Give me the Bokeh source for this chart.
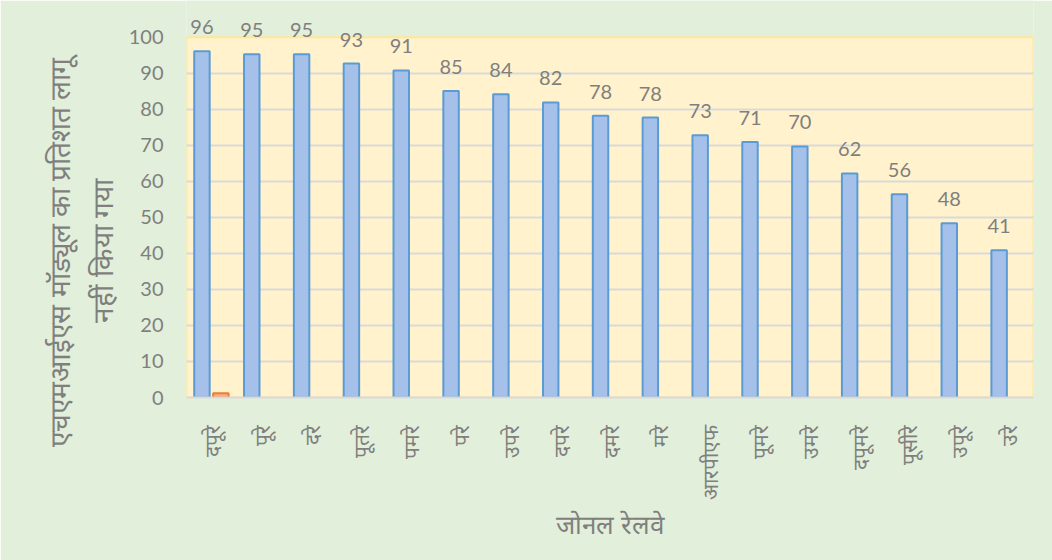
import math
from bokeh.plotting import figure
from bokeh.models import (ColumnDataSource, Range1d, FactorRange, LabelSet, Title,
                          FixedTicker, BoxAnnotation)
from bokeh.transform import dodge
from bokeh.core.properties import value
from bokeh.embed import file_html
from bokeh.resources import INLINE

# ---- data ----
zones = ["दपूरे", "पूरे", "दरे", "पूतरे", "पमरे", "परे", "उपरे", "दपरे", "दमरे",
         "मरे", "आरपीएफ", "पूमरे", "उमरे", "दपूमरे", "पूसीरे", "उपूरे", "उरे"]
not_implemented = [96.1, 95.3, 95.3, 92.7, 90.8, 85.1, 84.2, 81.9, 78.2,
                   77.7, 72.8, 70.9, 69.7, 62.2, 56.4, 48.4, 40.9]
second_series = [1.2, 0, 0, 0, 0, 0, 0, 0, 0, 0, 0, 0, 0, 0, 0, 0, 0]
y_ticks = [0, 10, 20, 30, 40, 50, 60, 70, 80, 90, 100]
grid_ticks = [10, 20, 30, 40, 50, 60, 70, 80, 90]
y_title_1 = "एचएमआईएस मॉड्यूल का प्रतिशत लागू"
y_title_2 = "नहीं किया गया"
x_title = "जोनल रेलवे"

GRAY = "#7F7F7F"
FONT = "Lato"

src = ColumnDataSource(dict(
    zone=zones, val=not_implemented,
    lbl=["%d" % round(v) for v in not_implemented]))
o_z = [z for z, v in zip(zones, second_series) if v > 0]
o_v = [v for v in second_series if v > 0]
src2 = ColumnDataSource(dict(zone=o_z, val=o_v))

p = figure(x_range=FactorRange(*zones), y_range=Range1d(0, 110.2),
           width=1052, height=560, output_backend="svg", toolbar_location=None,
           title=None, min_border_left=186, min_border_right=19,
           min_border_top=0, min_border_bottom=163)

p.border_fill_color = "#E2EFDA"
p.background_fill_color = "#E2EFDA"
p.outline_line_color = None

plot_area = BoxAnnotation(bottom=0, top=100, fill_color="#FFF2CC", fill_alpha=1,
                          line_color="#FFE699", line_width=2, line_alpha=1, level="image")
p.add_layout(plot_area)

p.vbar(x=dodge("zone", -0.19, range=p.x_range), top="val", width=0.31, source=src,
       fill_color="#A5C1E9", line_color="#5B9BD5", line_width=2)
p.vbar(x=dodge("zone", 0.19, range=p.x_range), top="val", width=0.31, source=src2,
       fill_color="#F4B183", line_color="#ED7D31", line_width=2)

labels = LabelSet(x=dodge("zone", -0.19, range=p.x_range), y="val", text="lbl", source=src,
                  y_offset=24, text_align="center", text_baseline="middle",
                  text_font=value(FONT), text_font_size="20px", text_color=GRAY)
p.add_layout(labels)

p.xgrid.grid_line_color = None
p.ygrid.ticker = FixedTicker(ticks=grid_ticks)
p.ygrid.grid_line_color = "#D9D9D9"
p.ygrid.grid_line_width = 2

p.yaxis.ticker = FixedTicker(ticks=y_ticks)
p.yaxis.axis_line_color = None
p.yaxis.major_tick_line_color = None
p.yaxis.minor_tick_line_color = None
p.yaxis.major_tick_out = 0
p.yaxis.major_tick_in = 0
p.yaxis.minor_tick_out = 0
p.yaxis.major_label_standoff = 23
p.yaxis.major_label_text_font = FONT
p.yaxis.major_label_text_font_size = "20px"
p.yaxis.major_label_text_color = GRAY

p.xaxis.axis_line_color = "#D9D9D9"
p.xaxis.axis_line_width = 2
p.xaxis.major_tick_line_color = None
p.xaxis.minor_tick_line_color = None
p.xaxis.major_tick_out = 0
p.xaxis.major_tick_in = 0
p.xaxis.major_label_orientation = math.pi / 2
p.xaxis.major_label_standoff = 27
p.xaxis.major_label_text_font = FONT
p.xaxis.major_label_text_font_size = "21px"
p.xaxis.major_label_text_color = GRAY

# y axis title, two lines (closest line added first)
p.add_layout(Title(text=y_title_2, align="left", offset=75, standoff=14,
                   text_font=FONT, text_font_size="28px", text_color=GRAY,
                   text_font_style="normal"), "left")
p.add_layout(Title(text=y_title_1, align="left", offset=-49, standoff=0,
                   text_font=FONT, text_font_size="28px", text_color=GRAY,
                   text_font_style="normal"), "left")
p.add_layout(Title(text=x_title, align="center", standoff=6,
                   text_font=FONT, text_font_size="26px", text_color=GRAY,
                   text_font_style="normal"), "below")

open("out.html", "w").write(file_html(p, INLINE))
